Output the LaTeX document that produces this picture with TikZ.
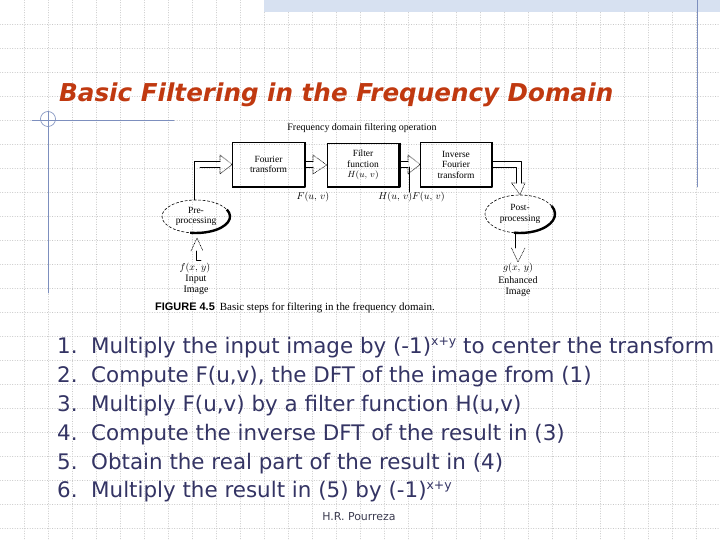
\documentclass[tikz,border=0pt]{standalone}
\usepackage{fontspec}
\setmainfont{Liberation Serif}
\newfontfamily\listfont{Liberation Sans}
\newfontfamily\slidefont{DejaVu Sans}
\usetikzlibrary{shapes.geometric}
\definecolor{titlered}{RGB}{192,57,16}
\definecolor{listblue}{RGB}{52,52,100}
\definecolor{ruleblue}{RGB}{125,143,190}
\definecolor{gridgray}{RGB}{200,200,200}
\definecolor{bandblue}{RGB}{215,225,241}
\definecolor{footgray}{RGB}{60,60,80}
\newcommand{\xysup}{\raisebox{7.5bp}{\fontsize{12.5}{13}\selectfont x+y}}
\begin{document}
\begin{tikzpicture}[x=1bp,y=1bp,line cap=round,line join=round,
  gridline/.style={gridgray,line width=0.5bp,dotted},
  rule/.style={ruleblue,line width=0.8bp},
  opbox/.style={draw,line width=0.6bp,minimum width=72bp,minimum height=44bp,inner sep=0pt,align=center,font=\fontsize{9.5}{10.5}\selectfont},
  blob/.style={draw,ellipse,dash pattern=on 2.5bp off 2bp,line width=0.6bp,inner sep=0pt,align=center,font=\fontsize{9.5}{10.5}\selectfont},
  shade/.style={line width=2.4bp,line cap=butt},
  shaft/.style={line width=0.6bp},
  head/.style={line width=0.6bp,densely dotted},
  lbl/.style={font=\fontsize{10}{11}\selectfont,inner sep=0pt},
  item/.style={anchor=base west,inner sep=0pt,listblue,font=\slidefont\fontsize{21.5}{25}\selectfont}]
  \useasboundingbox (0,0) rectangle (720,-540);
  \fill[white] (0,0) rectangle (720,-540);
  % background grid and slide rules
  \foreach \i in {24,48,...,696} \draw[gridline] (\i,0) -- (\i,-540);
  \foreach \j in {24,48,...,528} \draw[gridline] (0,-\j) -- (720,-\j);
  \fill[bandblue] (264,0) rectangle (720,-12);
  \draw[rule] (697,0) -- (697,-187);
  \draw[rule] (48,-111) -- (48,-293);
  \draw[rule] (32,-120) -- (174,-120);
  \draw[rule,line width=0.6bp] (48,-119) circle[radius=7.5bp];
  \node[anchor=base west,inner sep=0pt,titlered,font=\slidefont\bfseries\itshape\fontsize{24.7}{28}\selectfont] (title) at (59,-102) {Basic Filtering in the Frequency Domain};
  % the figure
  \node[lbl] (op) at (362,-128) {Frequency domain filtering operation};
  \node[opbox] (ft) at (268.5,-164.5) {Fourier\\transform};
  \node[opbox] (ff) at (363,-165) {Filter\\function\\$H(u,\,v)$};
  \node[opbox,minimum width=71bp] (ift) at (456,-164.5) {Inverse\\Fourier\\transform};
  \node[blob,minimum width=68bp,minimum height=33bp] (pre) at (196,-216.5) {Pre-\\processing};
  \node[blob,minimum width=70bp,minimum height=38bp] (post) at (520,-214) {Post-\\processing};
  \foreach \b in {ft,ff,ift} \draw[shade] (\b.north east) -- (\b.south east) -- (\b.south west);
  \draw[shade] ([shift={(25:34bp and 16.5bp)}]pre.center) arc[start angle=25,end angle=-100,x radius=34bp,y radius=16.5bp];
  \draw[shade] ([shift={(25:35bp and 19bp)}]post.center) arc[start angle=25,end angle=-100,x radius=35bp,y radius=19bp];
  % hollow arrows
  \draw[shaft] (pre.north -| 194,0) -- (194,-161.5) -- (220,-161.5);
  \draw[shaft] (200,-167) -- (220,-167);
  \draw[head] (220,-161.5) -- (220,-155) -- (ft.west) -- (220,-174) -- (220,-167);
  \draw[shaft] (ft.east |- 0,-161.5) -- (313,-161.5);
  \draw[shaft] (ft.east |- 0,-167) -- (313,-167);
  \draw[head] (313,-161.5) -- (313,-155) -- (ff.west) -- (313,-174) -- (313,-167);
  \draw[shaft] (ff.east |- 0,-161.5) -- (408,-161.5);
  \draw[shaft] (ff.east |- 0,-167) -- (408,-167);
  \draw[head] (408,-161.5) -- (408,-155) -- (ift.west) -- (408,-174) -- (408,-167);
  \draw[shaft] (ift.east |- 0,-161.5) -- (521.5,-161.5) -- (521.5,-183);
  \draw[shaft] (ift.east |- 0,-167) -- (516.5,-167) -- (516.5,-183);
  \draw[head] (516.5,-183) -- (511.5,-183) -- (post.north) -- (525,-183) -- (521.5,-183);
  \coordinate (gtip) at (518,-262);
  \draw[shaft] (515,-232) -- (515,-248);
  \draw[head] (511.5,-248) -- (gtip) -- (525,-248);
  \coordinate (ftip) at (197,-238);
  \draw[head] (191,-251) -- (ftip) -- (203,-251);
  \draw[shaft] (196,-251) -- (196,-260) -- (201,-260);
  % signal labels
  \node[lbl] (Fuv) at (313,-197) {$F(u,\,v)$};
  \node[lbl] (HF) at (411.5,-197) {$H(u,\,v)F(u,\,v)$};
  \draw[shaft] (HF.north -| 409.5,0) -- (409.5,-167);
  \node[lbl] (fxy) at (195,-268.5) {$f(x,\,y)$};
  \node[lbl,align=center] (inimg) at (196,-285) {Input\\Image};
  \node[lbl] (gxy) at (518,-268.5) {$g(x,\,y)$};
  \node[lbl,align=center] (enimg) at (518,-287) {Enhanced\\Image};
  \node[anchor=base west,inner sep=0pt,font=\fontsize{11}{13}\selectfont] (cap) at (155,-310) {{\listfont\bfseries FIGURE 4.5}\hspace{5bp}Basic steps for filtering in the frequency domain.};
  % the steps
  \node[item] (n1) at (57,-353) {1.};
  \node[item] (s1) at (91,-353) {Multiply the input image by (-1)\xysup{} to center the transform};
  \node[item] (n2) at (57,-382) {2.};
  \node[item] (s2) at (91,-382) {Compute F(u,v), the DFT of the image from (1)};
  \node[item] (n3) at (57,-411) {3.};
  \node[item] (s3) at (91,-411) {Multiply F(u,v) by a filter function H(u,v)};
  \node[item] (n4) at (57,-440) {4.};
  \node[item] (s4) at (91,-440) {Compute the inverse DFT of the result in (3)};
  \node[item] (n5) at (57,-469) {5.};
  \node[item] (s5) at (91,-469) {Obtain the real part of the result in (4)};
  \node[item] (n6) at (57,-497) {6.};
  \node[item] (s6) at (91,-497) {Multiply the result in (5) by (-1)\xysup};
  \node[footgray,font=\slidefont\fontsize{11}{13}\selectfont,inner sep=0pt] (foot) at (359,-517) {H.R. Pourreza};
\end{tikzpicture}
\end{document}
